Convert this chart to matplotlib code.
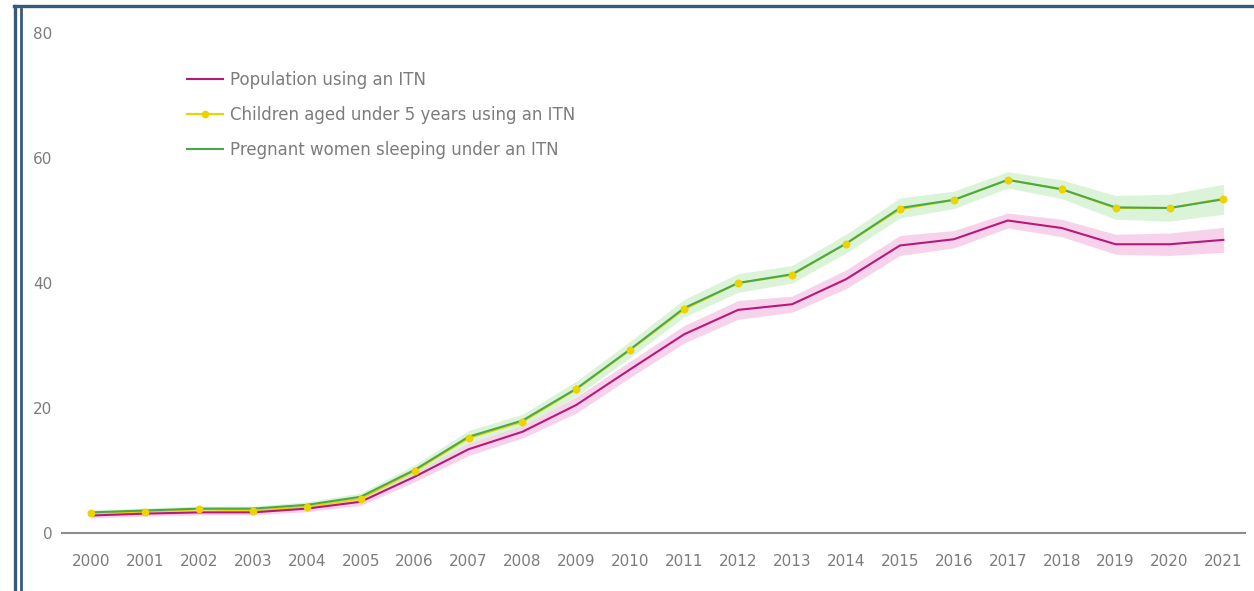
import matplotlib
matplotlib.use("Agg")
import matplotlib.pyplot as plt
from matplotlib.lines import Line2D
import numpy as np

plt.rcParams["font.family"] = ["DejaVu Sans"]

years = list(range(2000, 2022))

# population using an ITN (%)
population = [2.8, 3.1, 3.3, 3.3, 3.9, 5.0, 9.0, 13.4, 16.2, 20.5, 26.2, 31.8,
              35.7, 36.6, 40.6, 46.0, 47.0, 50.0, 48.8, 46.2, 46.2, 46.9]
population_lo = [2.4, 2.7, 2.9, 2.9, 3.4, 4.4, 8.2, 12.4, 15.2, 19.2, 24.9, 30.4,
                 34.2, 35.3, 39.1, 44.4, 45.6, 48.8, 47.4, 44.6, 44.4, 44.9]
population_hi = [3.2, 3.5, 3.7, 3.7, 4.4, 5.6, 9.8, 14.4, 17.2, 21.8, 27.5, 33.2,
                 37.2, 37.9, 42.1, 47.6, 48.4, 51.2, 50.2, 47.8, 48.0, 48.9]

# children aged under 5 years using an ITN (%)
children = [3.2, 3.4, 3.8, 3.6, 4.2, 5.5, 9.9, 15.2, 17.8, 23.0, 29.3, 35.8,
            40.0, 41.3, 46.3, 51.8, 53.3, 56.5, 55.0, 52.0, 52.0, 53.5]

# pregnant women sleeping under an ITN (%)
pregnant = [3.3, 3.6, 3.9, 3.9, 4.5, 5.8, 10.1, 15.4, 18.0, 23.1, 29.4, 36.0,
            40.0, 41.4, 46.3, 52.0, 53.3, 56.5, 55.0, 52.1, 52.0, 53.4]
pregnant_lo = [2.9, 3.2, 3.5, 3.5, 4.0, 5.2, 9.3, 14.4, 17.0, 21.9, 28.1, 34.6,
               38.5, 40.0, 44.8, 50.4, 51.9, 55.2, 53.5, 50.2, 49.9, 51.0]
pregnant_hi = [3.7, 4.0, 4.3, 4.3, 5.0, 6.4, 10.9, 16.4, 19.0, 24.3, 30.7, 37.4,
               41.5, 42.8, 47.8, 53.6, 54.7, 57.8, 56.5, 54.0, 54.2, 55.8]

yticks = [0, 20, 40, 60, 80]

W, H = 1254, 591
fig = plt.figure(figsize=(W / 100, H / 100), dpi=100)
ax = fig.add_axes([62 / W, (H - 533) / H, (1245 - 62) / W, 500 / H])

pink = "#b8187a"
green = "#4aa84c"
yellow = "#ecd400"
text_col = "#7c7c7c"

ax.fill_between(years, population_lo, population_hi, color="#f2b6de", alpha=0.6, lw=0, zorder=1)
ax.fill_between(years, pregnant_lo, pregnant_hi, color="#cdeec8", alpha=0.7, lw=0, zorder=1)

ax.plot(years, population, color=pink, lw=1.5, zorder=3, label="Population using an ITN")
ax.plot(years, children, color=yellow, lw=1.5, marker="o", ms=4.5, zorder=2,
        label="Children aged under 5 years using an ITN")
ax.plot(years, pregnant, color=green, lw=1.5, zorder=3, label="Pregnant women sleeping under an ITN")
ax.plot(years, children, color=yellow, lw=0, marker="o", ms=4.5, zorder=4)

ax.set_xlim(1999.46, 2021.4)
ax.set_ylim(0, 80)
ax.set_xticks(years)
ax.set_xticklabels([str(y) for y in years])
ax.set_yticks(yticks)
ax.tick_params(length=0, labelsize=11, colors=text_col)
ax.tick_params(axis="y", pad=7)
ax.tick_params(axis="x", pad=15)

for s in ["top", "right", "left"]:
    ax.spines[s].set_visible(False)
ax.spines["bottom"].set_color("#8c8c8c")
ax.spines["bottom"].set_linewidth(1.5)

leg = ax.legend(loc="upper left", bbox_to_anchor=(0.093, 0.955), frameon=False,
                fontsize=12, labelcolor=text_col, handlelength=2.15,
                handletextpad=0.42, labelspacing=1.04)

# blue frame around the picture
frame = "#355a7a"
def px_line(x0, y0, x1, y1, lw):
    fig.add_artist(Line2D([x0 / W, x1 / W], [1 - y0 / H, 1 - y1 / H],
                          transform=fig.transFigure, color=frame, lw=lw))

px_line(15.5, 6, 15.5, H, 2.4)
px_line(20.5, 9, 20.5, H, 2.0)
px_line(14, 6, W, 6, 2.4)

fig.savefig("out.png", dpi=100, facecolor="white")
